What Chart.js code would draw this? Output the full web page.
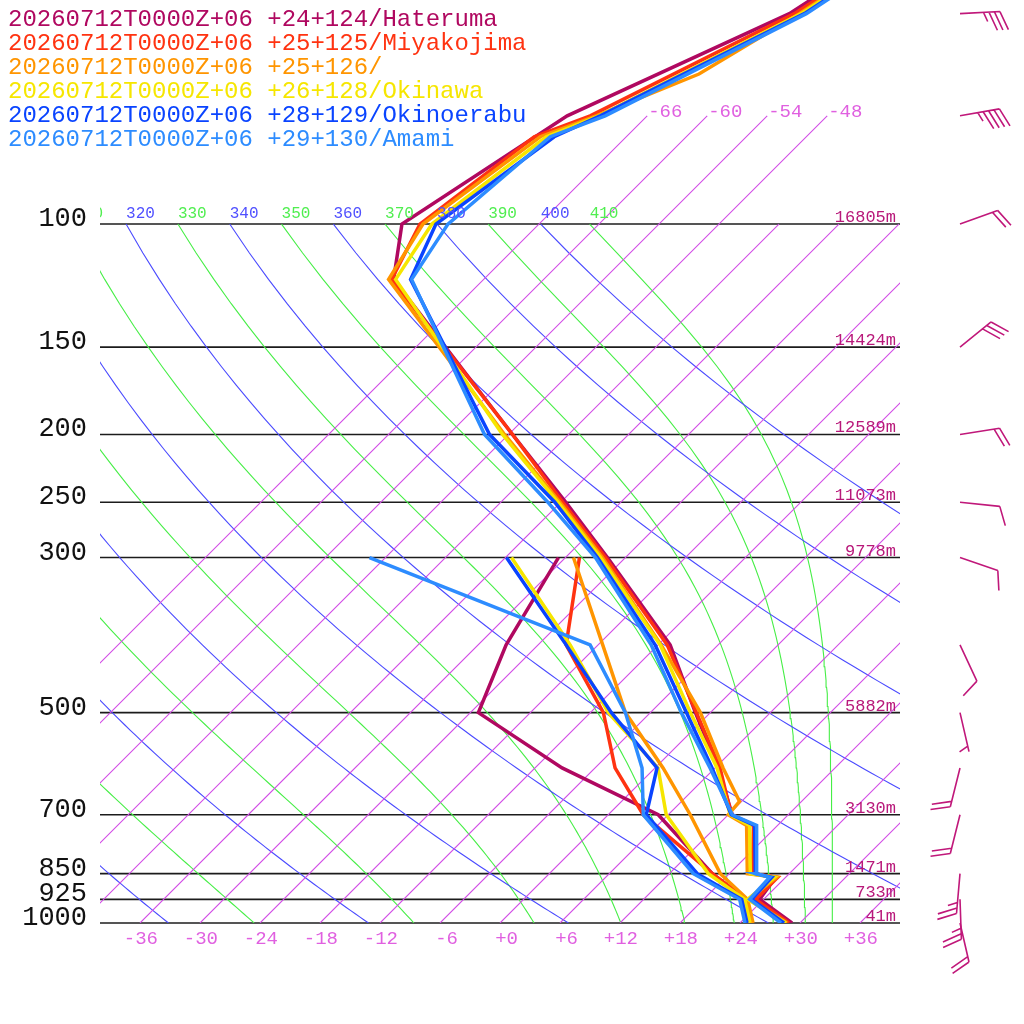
<!DOCTYPE html>
<html><head><meta charset="utf-8">
<script src="https://cdn.jsdelivr.net/npm/chart.js@4.4.0/dist/chart.umd.min.js"></script>
<style>html,body{margin:0;padding:0;background:#fff;}canvas{display:block;}</style>
</head><body>
<canvas id="c" width="1024" height="1024" style="width:1024px;height:1024px"></canvas>
<script>
// ---------- data ----------
const stationNames = [
  '20260712T0000Z+06 +24+124/Hateruma',
  '20260712T0000Z+06 +25+125/Miyakojima',
  '20260712T0000Z+06 +25+126/',
  '20260712T0000Z+06 +26+128/Okinawa',
  '20260712T0000Z+06 +28+129/Okinoerabu',
  '20260712T0000Z+06 +29+130/Amami'
];
const stationColors = ['#b00860', '#ff3311', '#ff9500', '#f6e600', '#0a44ff', '#2d8cff'];

const tempLevels = [1000, 925, 860, 850, 725, 700, 670, 600, 500, 400, 300, 250, 200, 120, 100, 75, 70, 61, 50, 30];
const tempHateruma   = [29.2, 23.6, 23.0, 20.4, 15.6, 12.4, null, 6.3, -1.5, -10.8, -25.8, -35.5, -47.6, -75.0, -79.7, null, -74.0, null, -62.0, -53.5];
const tempMiyakojima = [28.9, 23.2, 23.2, 20.3, 15.6, 12.3, null, 6.5, -1.4, -11.1, -26.0, -35.8, -47.6, -75.2, -77.9, -75.2, -71.7, null, -61.5, -53.0];
const temp25126      = [28.7, 22.5, 23.1, 19.8, 14.9, 12.0, 11.8, 6.8, -1.0, -11.7, -26.3, -36.1, -48.4, -75.5, -77.6, -74.6, -71.1, -65.0, -61.0, -52.8];
const tempOkinawa    = [28.6, 22.4, 22.9, 20.1, 15.2, 12.2, null, 6.2, -2.0, -11.8, -26.5, -36.3, -48.6, -74.8, -76.7, -74.0, -70.8, null, -60.8, -52.6];
const tempOkinoerabu = [28.4, 22.8, 22.6, 20.6, 15.7, 12.3, null, 5.7, -2.4, -12.3, -26.8, -36.6, -49.9, -73.3, -76.3, -73.2, -70.7, null, -60.5, -52.4];
const tempAmami      = [28.1, 22.6, 22.4, 20.7, 15.9, 12.4, null, 5.5, -2.9, -12.7, -27.0, -37.3, -50.4, -73.2, -75.1, -73.6, -70.2, null, -60.3, -52.2];

const dewLevels = [1000, 925, 850, 700, 600, 500, 400, 300];
const dewHateruma   = [25.0, 22.1, 16.3, 5.0, -9.3, -23.2, -27.2, -30.7];
const dewMiyakojima = [25.2, 22.3, 16.3, 3.5, -4.0, -10.7, -21.2, -28.6];
const dew25126      = [25.3, 22.4, 17.1, 8.2, 0.8, -8.5, null, -29.2];
const dewOkinawa    = [25.0, 22.1, 15.9, 5.8, 0.3, -10.2, -20.8, -35.4];
const dewOkinoerabu = [24.7, 21.8, 14.8, 3.8, 0.2, -9.9, -21.2, -35.9];
const dewAmami      = [24.5, 21.6, 14.4, 3.5, -1.3, -8.5, -18.8, -49.6];

const windLevels = [1000, 925, 850, 700, 600, 500, 400, 300, 250, 200, 150, 100, 70, 50];
const windDir    = [167, 178, 185, 194, 194, 167, 155, 109, 96, 81, 51, 70, 80, 87];
const windSpeed  = [20, 25, 25, 20, 20, 5, 10, 10, 10, 20, 30, 20, 45, 35];

const pressureLines = [100, 150, 200, 250, 300, 500, 700, 850, 925, 1000];
const heightLabels = ['16805m', '14424m', '12589m', '11073m', '9778m', '5882m', '3130m', '1471m', '733m', '41m'];
const tempTicks = [-36, -30, -24, -18, -12, -6, 0, 6, 12, 18, 24, 30, 36];
const isotherms = [-66, -60, -54, -48, -42, -36, -30, -24, -18, -12, -6, 0, 6, 12, 18, 24, 30, 36];
const labelledIsotherms = [-66, -60, -54, -48];
const dryThetas = [240, 260, 280, 300, 320, 340, 360, 380, 400];
const moistThetaEs = [250, 270, 290, 310, 330, 350, 370, 390, 410];

// ---------- diagram geometry ----------
const P_TOP = 47.8, P_BOT = 1000;
const PLOT_W = 800, PLOT_H = 923;
const SKEW = (PLOT_H / Math.log(P_BOT / P_TOP)) / (PLOT_W / 80); // 45 degree isotherms
const sx = (T, p) => T + SKEW * Math.log(P_BOT / p);

function series(levels, vals) {
  const out = [];
  levels.forEach((p, i) => { if (vals[i] !== null) out.push({x: sx(vals[i], p), y: p}); });
  return out;
}
function thetaE(Tk, p) {
  const Tc = Tk - 273.15;
  const es = 6.112 * Math.exp(17.67 * Tc / (Tc + 243.5));
  if (es >= 0.5 * p) return 1e9;
  const r = 622 * es / (p - es);
  return Tk * Math.pow(1000 / p, 0.2854 * (1 - 0.00028 * r)) * Math.exp((3.376 / Tk - 0.00254) * r * (1 + 0.00081 * r));
}
function moistT(te, p) {
  let lo = 120, hi = 330;
  for (let i = 0; i < 60; i++) { const m = (lo + hi) / 2; if (thetaE(m, p) > te) hi = m; else lo = m; }
  return (lo + hi) / 2 - 273.15;
}
const refPressures = [];
for (let p = 1000; p >= 100; p -= 10) refPressures.push(p);

const datasets = [];
const bg = (data, color) => ({data, borderColor: color, borderWidth: 1.1, showLine: true, pointRadius: 0, fill: false, order: 100});
isotherms.forEach(T => {
  const top = labelledIsotherms.includes(T) ? 70 : 100;
  datasets.push(bg([{x: sx(T, 1000), y: 1000}, {x: sx(T, top), y: top}], '#d24ce6'));
});
dryThetas.forEach(th => {
  datasets.push(bg(refPressures.map(p => ({x: sx(th * Math.pow(p / 1000, 0.2854) - 273.15, p), y: p})), '#4a4aff'));
});
moistThetaEs.forEach(te => {
  datasets.push(bg(refPressures.map(p => ({x: sx(moistT(te, p), p), y: p})), '#46ee46'));
});
const temps = [tempHateruma, tempMiyakojima, temp25126, tempOkinawa, tempOkinoerabu, tempAmami];
const dews = [dewHateruma, dewMiyakojima, dew25126, dewOkinawa, dewOkinoerabu, dewAmami];
temps.forEach((t, i) => {
  const style = {borderColor: stationColors[i], borderWidth: 3.5, showLine: true, pointRadius: 0, fill: false, tension: 0};
  datasets.push(Object.assign({data: series(tempLevels, t), order: 20 - 2 * i}, style));
  datasets.push(Object.assign({data: series(dewLevels, dews[i]), order: 21 - 2 * i}, style));
});

// ---------- decorations ----------
const MONO = '"Liberation Mono", "DejaVu Sans Mono", monospace';
function drawBarb(ctx, bx, by, dirDeg, spd) {
  const L = 40, full = 20, half = 10, gap = 5.5, rot = 68 * Math.PI / 180;
  const d = dirDeg * Math.PI / 180;
  const ux = Math.sin(d), uy = -Math.cos(d);
  const ex = bx + ux * L, ey = by + uy * L;
  const a = Math.atan2(uy, ux) + rot;
  const fx = Math.cos(a), fy = Math.sin(a);
  ctx.beginPath();
  ctx.moveTo(bx, by); ctx.lineTo(ex, ey);
  const nFull = Math.floor(spd / 10), nHalf = (spd % 10) >= 5 ? 1 : 0;
  let pos = 0;
  for (let i = 0; i < nFull; i++) {
    const px = ex - ux * pos, py = ey - uy * pos;
    ctx.moveTo(px, py); ctx.lineTo(px + fx * full, py + fy * full);
    pos += gap;
  }
  if (nHalf) {
    if (nFull === 0) pos = gap;
    const px = ex - ux * pos, py = ey - uy * pos;
    ctx.moveTo(px, py); ctx.lineTo(px + fx * half, py + fy * half);
  }
  ctx.stroke();
}

const decor = {
  id: 'decor',
  beforeDatasetsDraw(chart) {
    const {ctx, chartArea: a, scales: {y}} = chart;
    ctx.save();
    ctx.strokeStyle = '#1c1c1c'; ctx.lineWidth = 1.6;
    pressureLines.forEach(p => {
      const py = y.getPixelForValue(p);
      ctx.beginPath(); ctx.moveTo(a.left, py); ctx.lineTo(a.right, py); ctx.stroke();
    });
    ctx.restore();
  },
  afterDatasetsDraw(chart) {
    const {ctx, chartArea: a, scales: {x, y}} = chart;
    ctx.save();
    // theta / theta-e labels at 100 hPa, clipped to plot
    ctx.save();
    ctx.beginPath(); ctx.rect(a.left, 0, a.right - a.left, a.bottom); ctx.clip();
    ctx.font = '16px ' + MONO; ctx.textAlign = 'left'; ctx.textBaseline = 'alphabetic';
    const y100 = y.getPixelForValue(100);
    dryThetas.forEach(th => {
      const px = x.getPixelForValue(sx(th * Math.pow(0.1, 0.2854) - 273.15, 100));
      ctx.fillStyle = '#5050ff'; ctx.fillText(String(th), px, y100 - 6);
    });
    moistThetaEs.forEach(te => {
      const px = x.getPixelForValue(sx(moistT(te, 100), 100));
      ctx.fillStyle = '#50ee50'; ctx.fillText(String(te), px, y100 - 6);
    });
    // isotherm labels at 70 hPa
    ctx.font = '19px ' + MONO; ctx.fillStyle = '#e060e0';
    const y70 = y.getPixelForValue(70);
    labelledIsotherms.forEach(T => {
      ctx.fillText(String(T), x.getPixelForValue(sx(T, 70)) + 1, y70 + 1);
    });
    // height labels
    ctx.font = '17px ' + MONO; ctx.fillStyle = '#b8187a'; ctx.textAlign = 'right';
    pressureLines.forEach((p, i) => ctx.fillText(heightLabels[i], a.right - 4, y.getPixelForValue(p) - 2));
    ctx.restore();
    // pressure labels (left)
    ctx.font = '27px ' + MONO; ctx.fillStyle = '#111'; ctx.textAlign = 'right';
    pressureLines.forEach(p => ctx.fillText(String(p), a.left - 13, y.getPixelForValue(p) + 2));
    // temperature ticks
    ctx.font = '19px ' + MONO; ctx.fillStyle = '#e060e0'; ctx.textAlign = 'right';
    tempTicks.forEach(T => {
      const s = T > 0 ? '+' + T : (T === 0 ? '+0' : String(T));
      ctx.fillText(s, x.getPixelForValue(T) + 18, a.bottom + 21);
    });
    // legend
    ctx.font = '24px ' + MONO; ctx.textAlign = 'left';
    stationNames.forEach((s, i) => { ctx.fillStyle = stationColors[i]; ctx.fillText(s, 8, 26 + 24 * i); });
    // wind barbs
    ctx.strokeStyle = '#c0187a'; ctx.lineWidth = 1.6;
    windLevels.forEach((p, i) => drawBarb(ctx, a.right + 60, y.getPixelForValue(p), windDir[i], windSpeed[i]));
    ctx.restore();
  }
};

new Chart(document.getElementById('c'), {
  type: 'scatter',
  data: {datasets},
  options: {
    responsive: false, animation: false, devicePixelRatio: 1,
    layout: {padding: {left: 100, right: 124, top: 0, bottom: 101}},
    plugins: {legend: {display: false}, tooltip: {enabled: false}},
    scales: {
      x: {type: 'linear', min: -40, max: 40, display: false},
      y: {type: 'logarithmic', min: P_TOP, max: P_BOT, reverse: true, display: false}
    }
  },
  plugins: [decor]
});
</script>
</body></html>
